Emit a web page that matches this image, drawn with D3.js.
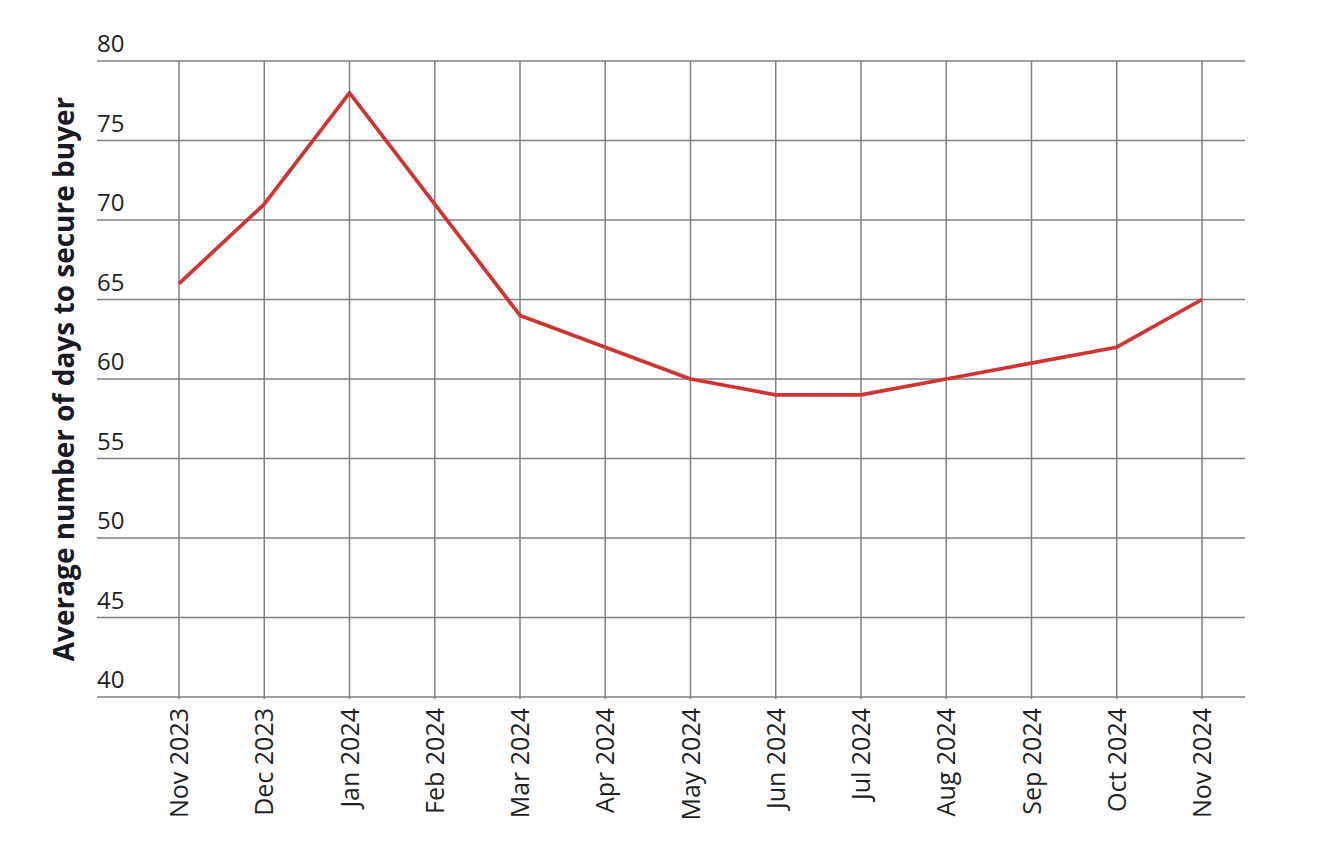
<!DOCTYPE html>
<html>
<head>
<meta charset="utf-8">
<script src="https://cdn.jsdelivr.net/npm/d3@7"></script>
<style>
  body { margin: 0; background: #fff; }
  svg { font-family: "Open Sans", "Noto Sans", sans-serif; }
</style>
</head>
<body>
<div id="chart"></div>
<script>
// Chart data
var months = ['Nov 2023', 'Dec 2023', 'Jan 2024', 'Feb 2024', 'Mar 2024', 'Apr 2024',
  'May 2024', 'Jun 2024', 'Jul 2024', 'Aug 2024', 'Sep 2024', 'Oct 2024', 'Nov 2024'];
var daysToBuyer = [66, 71, 78, 71, 64, 62, 60, 59, 59, 60, 61, 62, 65];
var yTicks = [40, 45, 50, 55, 60, 65, 70, 75, 80];
var yTitle = 'Average number of days to secure buyer';

var width = 1340, height = 866;
var margin = { top: 61, right: 95, bottom: 169, left: 97 };
var plotW = width - margin.left - margin.right;
var plotH = height - margin.top - margin.bottom;

var svg = d3.select('#chart').append('svg')
  .attr('width', width)
  .attr('height', height);

var g = svg.append('g')
  .attr('transform', 'translate(' + margin.left + ',' + margin.top + ')');

// months don't fill the frame evenly: more room on the left than the right
var x = d3.scalePoint()
  .domain(months)
  .range([82, plotW - 43]);

var y = d3.scaleLinear()
  .domain([40, 80])
  .range([plotH, 0]);

var gridColor = '#808080';

// horizontal grid lines
g.selectAll('.hgrid')
  .data(yTicks)
  .enter().append('line')
  .attr('class', 'hgrid')
  .attr('x1', 0)
  .attr('x2', plotW)
  .attr('y1', function (d) { return y(d); })
  .attr('y2', function (d) { return y(d); })
  .attr('stroke', gridColor)
  .attr('stroke-width', 1.5);

// vertical grid lines
g.selectAll('.vgrid')
  .data(months)
  .enter().append('line')
  .attr('class', 'vgrid')
  .attr('x1', function (d) { return x(d); })
  .attr('x2', function (d) { return x(d); })
  .attr('y1', 0)
  .attr('y2', plotH + 2)
  .attr('stroke', gridColor)
  .attr('stroke-width', 1.5);

// y labels sit above their gridline, left aligned
g.selectAll('.ylab')
  .data(yTicks)
  .enter().append('text')
  .attr('class', 'ylab')
  .attr('x', 0)
  .attr('y', function (d) { return y(d) - 9; })
  .attr('font-size', 24)
  .attr('fill', '#1f1f1f')
  .text(function (d) { return d; });

// x labels, rotated
g.selectAll('.xlab')
  .data(months)
  .enter().append('text')
  .attr('class', 'xlab')
  .attr('transform', function (d) {
    return 'translate(' + (x(d) + 9) + ',' + (plotH + 11) + ') rotate(-90)';
  })
  .attr('text-anchor', 'end')
  .attr('font-size', 25)
  .attr('fill', '#1f1f1f')
  .text(function (d) { return d; });

// y axis title
svg.append('text')
  .attr('transform', 'translate(' + 74 + ',' + (margin.top + plotH / 2) + ') rotate(-90)')
  .attr('text-anchor', 'middle')
  .attr('font-size', 28)
  .attr('font-weight', 'bold')
  .attr('fill', '#1a1a24')
  .text(yTitle);

// the series line
var line = d3.line()
  .x(function (d, i) { return x(months[i]); })
  .y(function (d) { return y(d); });

g.append('path')
  .datum(daysToBuyer)
  .attr('fill', 'none')
  .attr('stroke', '#d03330')
  .attr('stroke-width', 3.7)
  .attr('stroke-linejoin', 'round')
  .attr('d', line);
</script>
</body>
</html>
